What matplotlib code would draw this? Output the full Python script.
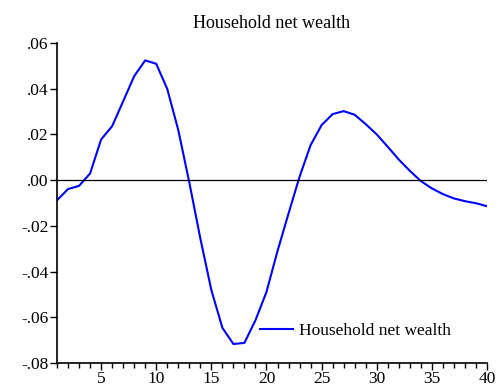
import matplotlib
matplotlib.use('Agg')
import matplotlib.pyplot as plt
from matplotlib.ticker import FuncFormatter, MultipleLocator

plt.rcParams['font.family'] = ['Liberation Serif', 'DejaVu Serif']

periods = list(range(1, 41))
wealth = [-0.0088, -0.0039, -0.0025, 0.0029, 0.0178, 0.0236, 0.0345, 0.0455,
          0.0524, 0.0509, 0.0399, 0.0219, -0.0010, -0.0255, -0.0481, -0.0646,
          -0.0717, -0.0712, -0.0613, -0.0489, -0.0310, -0.0146, 0.0015, 0.0153,
          0.0241, 0.0289, 0.0302, 0.0286, 0.0245, 0.0200, 0.0146, 0.0090,
          0.0041, -0.0004, -0.0036, -0.0061, -0.0080, -0.0092, -0.0101, -0.0114]
series_name = 'Household net wealth'


def fmt(v, pos):
    s = f'{v:.2f}'
    if s.startswith('-0'):
        return '-' + s[2:]
    if s.startswith('0'):
        return s[1:]
    return s


fig = plt.figure(figsize=(5, 3.91), dpi=100)
ax = fig.add_axes([0.114, 0.0716, 0.86, 0.8184])

ax.plot(periods, wealth, color='#0000ff', linewidth=1.5, label=series_name)
ax.axhline(0, color='black', linewidth=0.9)

ax.set_xlim(1, 40)
ax.set_ylim(-0.08, 0.06)
ax.yaxis.set_major_locator(MultipleLocator(0.02))
ax.yaxis.set_major_formatter(FuncFormatter(fmt))
ax.xaxis.set_major_locator(MultipleLocator(5))
ax.xaxis.set_minor_locator(MultipleLocator(1))

for side in ['top', 'right']:
    ax.spines[side].set_visible(False)
for side in ['left', 'bottom']:
    ax.spines[side].set_linewidth(1.2)

ax.tick_params(axis='both', which='major', direction='out', length=5, width=1,
               labelsize=12.5, colors='black')
ax.tick_params(axis='x', which='minor', direction='out', length=3.5, width=1)
ax.tick_params(axis='y', pad=1)
ax.tick_params(axis='x', pad=1)

ax.set_title(series_name, fontsize=13, pad=11)

ax.legend(loc='center left', bbox_to_anchor=(0.472, 0.1), frameon=False,
          borderpad=0, borderaxespad=0,
          handlelength=1.9, handletextpad=0.35, fontsize=12.5)

fig.savefig('out.png', dpi=100)
